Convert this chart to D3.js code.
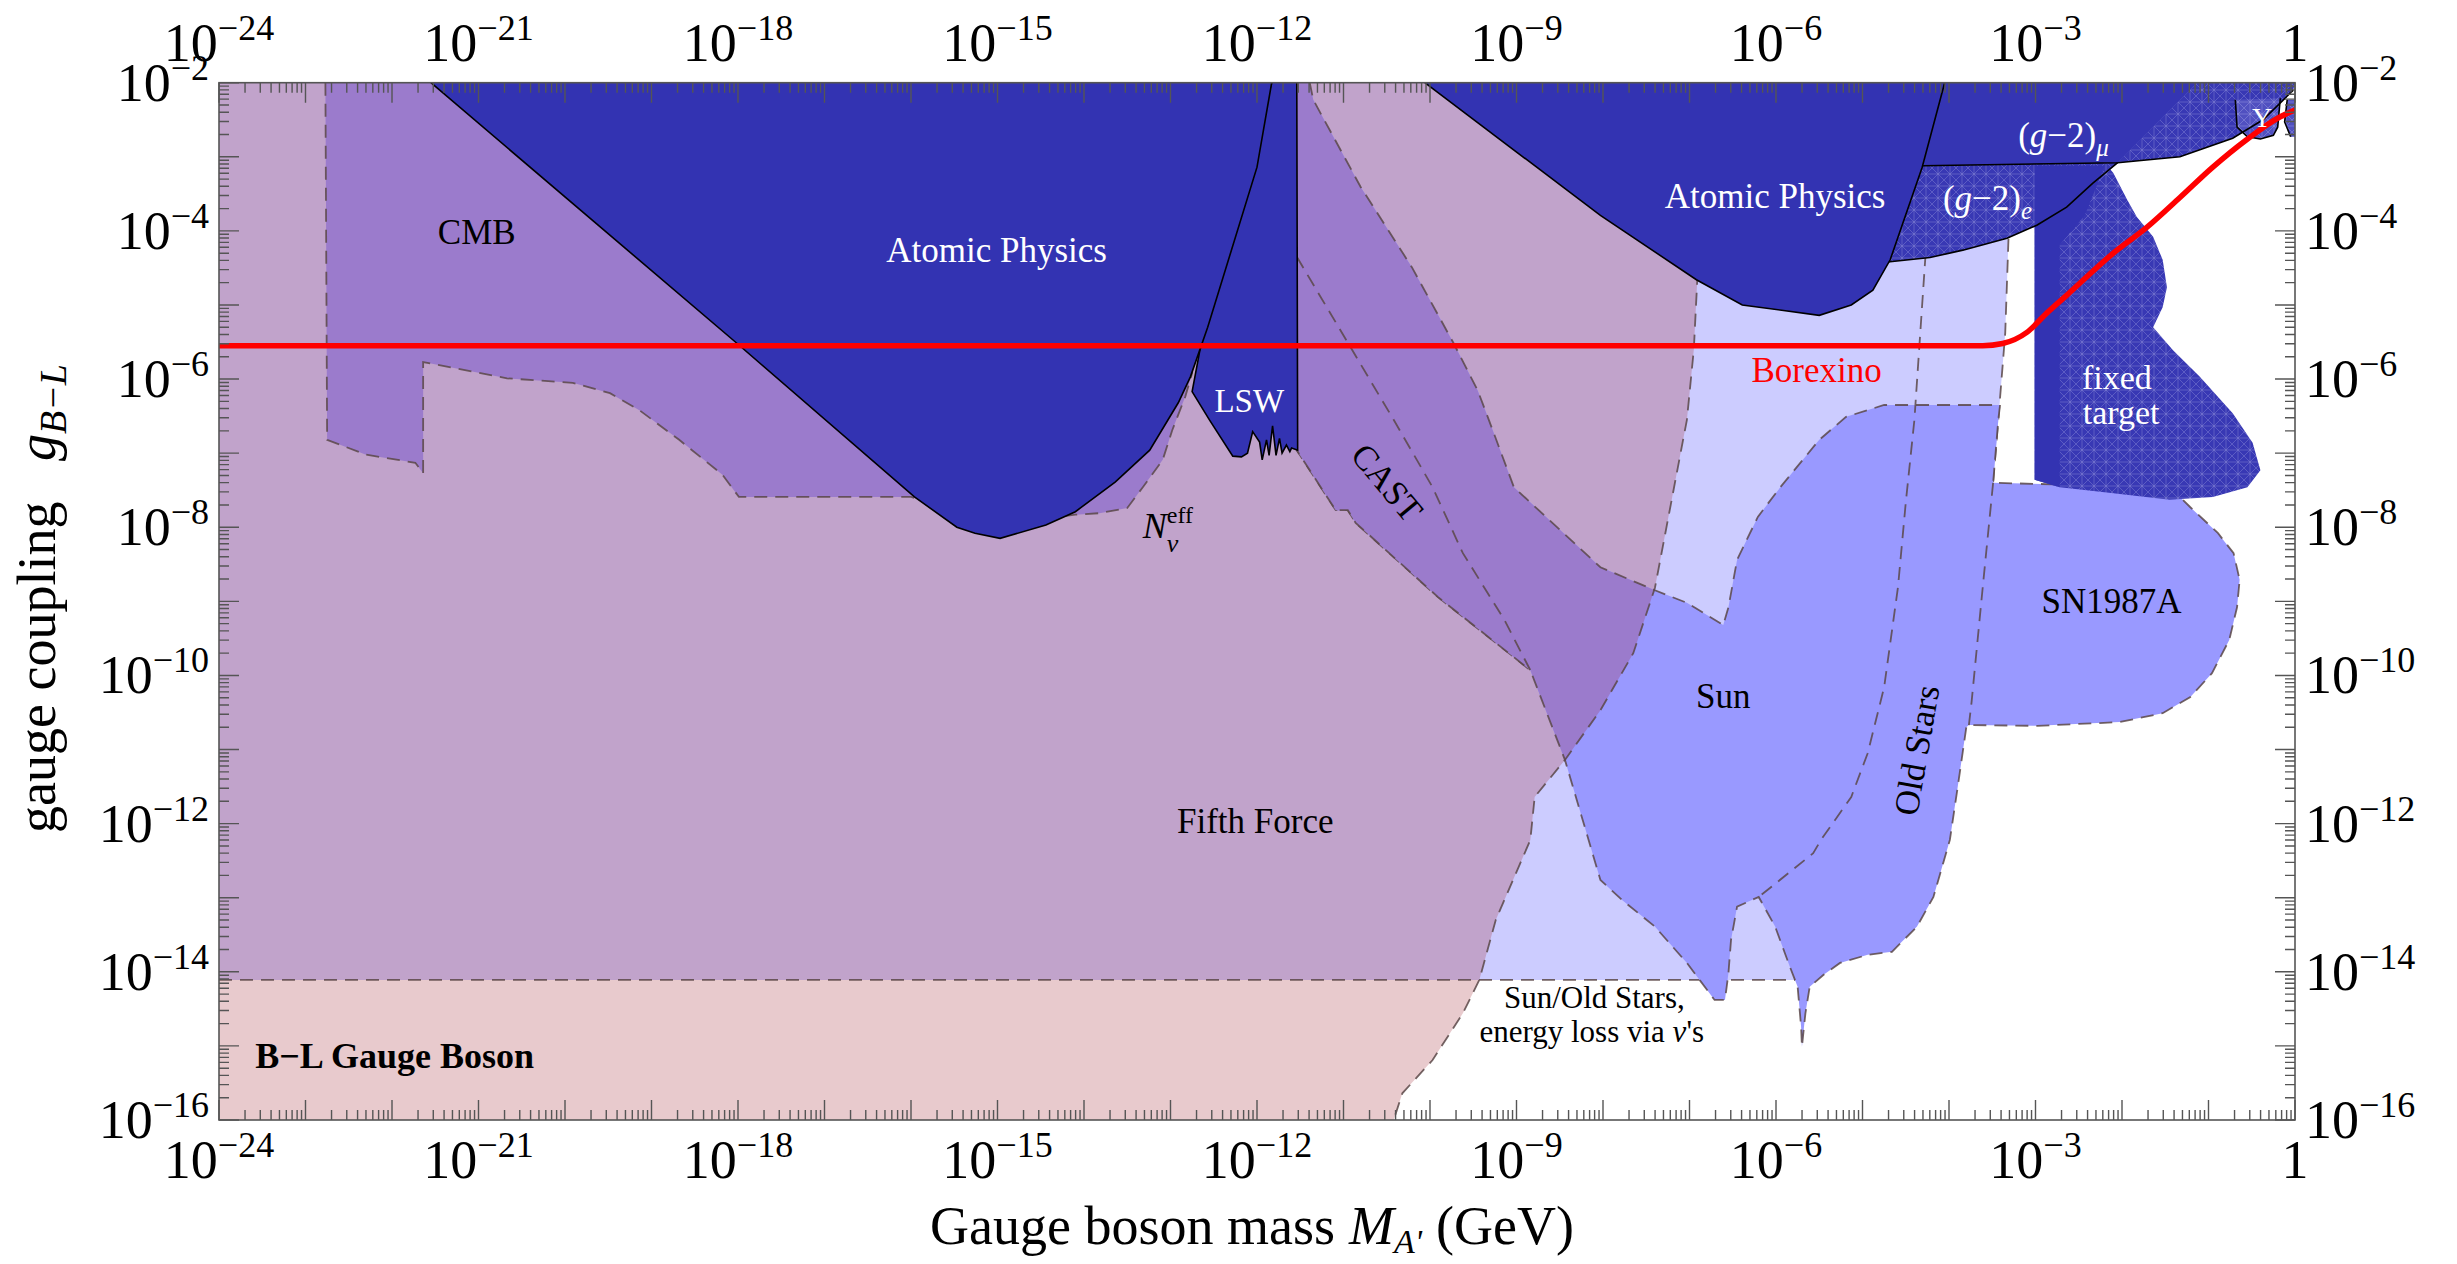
<!DOCTYPE html>
<html lang="en">
<head>
  <meta charset="UTF-8">
  <title>B-L Gauge Boson constraints</title>
  <script src="https://d3js.org/d3.v7.min.js"></script>
  <style>
    html, body { margin: 0; padding: 0; background: #fff; }
    svg { display: block; }
    text { font-family: "Liberation Serif", "Times New Roman", serif; }
  </style>
</head>
<body>
  <svg id="chart" width="2457" height="1264"></svg>

  <script>
    // every point is [log10(mass / GeV), log10(coupling)]
    const fifthForce = [[-24,-2],[-6.9,-2],[-6.91,-4.66],[-6.95,-5.6],[-7.03,-6.55],[-7.4,-8.82],[-7.65,-9.7],[-8.03,-10.47],[-8.44,-11.14],[-8.79,-11.64],[-8.84,-12.22],[-9.24,-13.3],[-9.43,-14.11],[-9.62,-14.56],[-9.97,-15.19],[-10.32,-15.64],[-10.42,-16],[-24,-16]];
    const energyLoss = [[-24,-14.11],[-5.78,-14.11],[-5.62,-13.9],[-4.57,-11.68],[-3.99,-10.33],[-3.64,-7.63],[-3.49,-7.4],[-3.43,-6.55],[-3.35,-5.38],[-3.31,-4.03],[-3.29,-2],[-24,-2]];
    const sunStars = [[-11.62,-2],[-11.39,-2],[-11.35,-2.23],[-10.8,-3.41],[-10.21,-4.49],[-9.73,-5.51],[-9.45,-6.15],[-9.32,-6.55],[-9.03,-7.46],[-8.03,-8.54],[-7.4,-8.85],[-7.03,-9.02],[-6.61,-9.32],[-6.55,-9.08],[-6.45,-8.44],[-6.21,-7.86],[-5.95,-7.46],[-5.5,-6.82],[-5.19,-6.51],[-4.75,-6.35],[-3.41,-6.35],[-3.43,-6.55],[-3.49,-7.4],[-1.46,-7.46],[-1.33,-7.59],[-1.21,-7.73],[-0.89,-8.08],[-0.71,-8.35],[-0.64,-8.71],[-0.67,-9.08],[-0.76,-9.52],[-0.96,-9.97],[-1.21,-10.29],[-1.53,-10.51],[-2.03,-10.63],[-2.98,-10.68],[-3.77,-10.67],[-3.8,-10.7],[-3.9,-11.51],[-3.99,-12.22],[-4.18,-12.99],[-4.37,-13.39],[-4.66,-13.73],[-4.94,-13.77],[-5.26,-13.88],[-5.45,-14.04],[-5.61,-14.2],[-5.66,-14.56],[-5.7,-15.01],[-5.71,-14.74],[-5.75,-14.2],[-5.84,-13.93],[-6.01,-13.39],[-6.2,-12.99],[-6.45,-13.12],[-6.52,-13.57],[-6.55,-14.02],[-6.59,-14.38],[-6.71,-14.38],[-7.03,-13.88],[-7.4,-13.39],[-7.78,-13.03],[-8.03,-12.76],[-8.44,-11.14],[-8.84,-9.93],[-9.91,-8.94],[-10.86,-7.94],[-10.95,-7.77],[-11.09,-7.77],[-11.54,-6.96]];
    const oldStarsEdge = [[-4.27,-4.3],[-4.4,-6.55],[-4.5,-7.67],[-4.59,-8.81],[-4.75,-10.16],[-4.94,-11.05],[-5.13,-11.64],[-5.48,-12.22],[-5.57,-12.4],[-6.2,-12.99]];
    const snEdge = [[-3.49,-7.4],[-3.61,-8.81],[-3.74,-10.37],[-3.77,-10.67]];
    const cast = [[-11.54,-4.35],[-10.42,-6.55],[-9.97,-7.46],[-9.62,-8.35],[-9.14,-9.25],[-8.84,-9.93],[-9.91,-8.94],[-10.86,-7.94],[-10.95,-7.77],[-11.09,-7.77],[-11.54,-6.96]];
    const cmbNeff = [[-22.77,-2],[-22.75,-6.82],[-22.3,-7.02],[-21.73,-7.13],[-21.64,-7.27],[-21.64,-5.77],[-20.67,-5.99],[-19.91,-6.05],[-19.48,-6.19],[-19.14,-6.42],[-18.68,-6.82],[-18.18,-7.29],[-17.99,-7.59],[-16.0,-7.59],[-14.97,-7.97],[-14.1,-7.83],[-13.82,-7.81],[-13.5,-7.74],[-13.32,-7.46],[-13.09,-7.09],[-12.98,-6.69],[-12.83,-6.24],[-12.75,-5.92],[-12.66,-2]];
    const atomic1 = [[-21.55,-2],[-18.02,-5.51],[-15.96,-7.59],[-15.47,-8.0],[-15.26,-8.08],[-14.97,-8.15],[-14.44,-7.97],[-14.1,-7.79],[-13.64,-7.39],[-13.24,-6.96],[-12.91,-6.32],[-12.77,-5.97],[-12.57,-5.3],[-12.0,-3.14],[-11.83,-2]];
    const lsw = [[-11.83,-2],[-11.54,-2],[-11.53,-6.96],[-11.6,-6.93],[-11.62,-6.98],[-11.66,-6.89],[-11.71,-7.0],[-11.74,-6.8],[-11.78,-7.03],[-11.82,-6.63],[-11.86,-7.03],[-11.89,-6.82],[-11.94,-7.09],[-11.97,-6.85],[-12.05,-6.71],[-12.11,-7.0],[-12.18,-7.05],[-12.28,-7.04],[-12.55,-6.55],[-12.75,-6.17],[-12.66,-5.61]];
    const atomic2 = [[-10.06,-2],[-8.03,-3.79],[-6.92,-4.66],[-6.39,-5.0],[-5.5,-5.14],[-5.13,-5.0],[-4.88,-4.8],[-4.68,-4.39],[-4.31,-3.14],[-4.05,-2]];
    const gm2Mu = [[-4.05,-2],[-4.3,-3.12],[-2.05,-3.08],[-1.13,-2]];
    const gm2MuEdge = [[-4.3,-3.12],[-2.05,-3.08],[-1.33,-3.0],[-0.72,-2.75],[-0.37,-2.5],[-0.02,-2.1]];
    const gm2E = [[-4.71,-4.42],[-4.22,-4.36],[-3.84,-4.26],[-3.33,-4.1],[-2.98,-3.92],[-2.64,-3.68],[-2.34,-3.36],[-2.05,-3.08],[-1.33,-3.0],[-0.72,-2.75],[-0.37,-2.5],[-0.02,-2.1],[0,-2],[-4.57,-2]];
    const gm2EEdge = [[-4.71,-4.42],[-4.22,-4.36],[-3.84,-4.26],[-3.33,-4.1],[-2.98,-3.92],[-2.64,-3.68],[-2.34,-3.36],[-2.05,-3.08]];
    const fixedTarget = [[-3.01,-3.12],[-2.17,-3.12],[-2.1,-3.22],[-1.94,-3.58],[-1.83,-3.81],[-1.64,-4.08],[-1.53,-4.39],[-1.48,-4.76],[-1.53,-5.03],[-1.64,-5.3],[-1.41,-5.61],[-1.1,-5.97],[-0.72,-6.46],[-0.49,-6.86],[-0.4,-7.23],[-0.55,-7.46],[-0.95,-7.59],[-1.45,-7.63],[-2.1,-7.54],[-2.72,-7.46],[-3.01,-7.36]];
    const fixedTargetBar = [[-3.01,-3.12],[-2.2,-3.12],[-2.43,-3.79],[-2.72,-4.19],[-2.72,-7.46],[-3.01,-7.36]];
    const upsilon = [[-0.69,-2.23],[-0.67,-2.6],[-0.55,-2.73],[-0.4,-2.76],[-0.25,-2.71],[-0.2,-2.6],[-0.17,-2.21]];
    const upsilon2 = [[-0.09,-2.23],[-0.12,-2.53],[-0.05,-2.73],[0,-2.73],[0,-2.23]];
    const borexino = [[-24,-5.55],[-4.2,-5.55],[-3.61,-5.55],[-3.38,-5.52],[-3.1,-5.37],[-2.87,-5.11],[-2.64,-4.87],[-2.1,-4.3],[-1.71,-3.95],[-1.33,-3.55],[-0.95,-3.14],[-0.56,-2.77],[-0.17,-2.46],[0,-2.37]];

    const xLabelExps = [-24, -21, -18, -15, -12, -9, -6, -3, 0];
    const yLabelExps = [-2, -4, -6, -8, -10, -12, -14, -16];

    const pink = "#e8cacd", mauve = "#c1a3cb", purple = "#9b7bcc",
          lavender = "#ccccff", periwinkle = "#9999ff", darkBlue = "#3333b2";

    const svg = d3.select("#chart");
    const pL = 219, pR = 2295, pT = 82.7, pB = 1120;

    const x = d3.scaleLog().domain([1e-24, 1]).range([pL, pR]);
    const y = d3.scaleLog().domain([1e-16, 1e-2]).range([pB, pT]);
    const X = d => x(Math.pow(10, d[0]));
    const Y = d => y(Math.pow(10, d[1]));
    const line = d3.line().x(X).y(Y);
    const poly = pts => line(pts) + "Z";

    // polygon outline without the pieces lying on the plot frame
    function edges(pts) {
      const onFrame = (a, b) =>
        (a[0] === b[0] && (a[0] === -24 || a[0] === 0)) ||
        (a[1] === b[1] && (a[1] === -2 || a[1] === -16));
      let d = "", last = null;
      for (let i = 0; i < pts.length; i++) {
        const a = pts[i], b = pts[(i + 1) % pts.length];
        if (onFrame(a, b)) { last = null; continue; }
        if (last !== a) d += `M${X(a)},${Y(a)}`;
        d += `L${X(b)},${Y(b)}`;
        last = b;
      }
      return d;
    }

    const defs = svg.append("defs");
    defs.append("clipPath").attr("id", "plotClip")
      .append("rect").attr("x", pL).attr("y", pT)
      .attr("width", pR - pL).attr("height", pB - pT);
    defs.append("clipPath").attr("id", "ffClip").append("path").attr("d", poly(fifthForce));
    defs.append("clipPath").attr("id", "elClip").append("path").attr("d", poly(energyLoss));

    function mesh(id, base, lineCol) {
      const p = defs.append("pattern").attr("id", id)
        .attr("patternUnits", "userSpaceOnUse").attr("width", 12).attr("height", 12);
      p.append("rect").attr("width", 12).attr("height", 12).attr("fill", base);
      p.append("path").attr("d", "M0,0L12,12M12,0L0,12M6,0V12M0,6H12")
        .attr("stroke", lineCol).attr("stroke-width", 0.8).attr("stroke-opacity", 0.55);
    }
    mesh("meshBlue", "#3838b4", "#8a8ad8");
    mesh("meshLight", "#5050c0", "#a0a0e6");

    const plot = svg.append("g").attr("clip-path", "url(#plotClip)");

    const dashed = sel => sel.attr("fill", "none").attr("stroke", "#5a4848")
      .attr("stroke-width", 1.8).attr("stroke-dasharray", "13,8").attr("stroke-opacity", 0.85);
    const solid = sel => sel.attr("fill", "none").attr("stroke", "#000").attr("stroke-width", 1.6);

    // light constraint regions
    plot.append("path").attr("d", poly(fifthForce)).attr("fill", pink);
    plot.append("path").attr("d", poly(energyLoss)).attr("fill", lavender);
    plot.append("path").attr("d", poly(fifthForce)).attr("fill", mauve).attr("clip-path", "url(#elClip)");
    plot.append("path").attr("d", edges(energyLoss)).call(dashed);

    plot.append("path").attr("d", poly(sunStars)).attr("fill", periwinkle);
    plot.append("path").attr("d", poly(sunStars)).attr("fill", purple).attr("clip-path", "url(#ffClip)");
    plot.append("path").attr("d", edges(fifthForce)).call(dashed);
    plot.append("path").attr("d", edges(sunStars)).call(dashed);
    plot.append("path").attr("d", line(oldStarsEdge)).call(dashed);
    plot.append("path").attr("d", line(snEdge)).call(dashed);

    plot.append("path").attr("d", poly(cast)).attr("fill", purple);
    plot.append("path").attr("d", edges(cast)).call(dashed);
    plot.append("path").attr("d", poly(cmbNeff)).attr("fill", purple);
    plot.append("path").attr("d", edges(cmbNeff)).call(dashed);

    // laboratory bounds
    plot.append("path").attr("d", poly(gm2E)).attr("fill", "url(#meshBlue)");
    plot.append("path").attr("d", poly(gm2Mu)).attr("fill", "#3535b3");
    plot.append("path").attr("d", poly(fixedTarget)).attr("fill", "url(#meshBlue)");
    plot.append("path").attr("d", poly(fixedTargetBar)).attr("fill", darkBlue);
    plot.append("path").attr("d", poly(upsilon)).attr("fill", "url(#meshLight)");
    plot.append("path").attr("d", poly(upsilon2)).attr("fill", "url(#meshLight)");
    plot.append("path").attr("d", line(upsilon)).call(solid);
    plot.append("path").attr("d", line(upsilon2.slice(0, 3))).call(solid);
    plot.append("path").attr("d", line(gm2EEdge)).call(solid);
    plot.append("path").attr("d", line(gm2MuEdge)).call(solid);

    [atomic2, lsw, atomic1].forEach(r => {
      plot.append("path").attr("d", poly(r)).attr("fill", darkBlue);
      plot.append("path").attr("d", edges(r)).call(solid);
    });

    plot.append("path").attr("d", d3.line().x(X).y(Y).curve(d3.curveMonotoneX)(borexino))
      .attr("fill", "none").attr("stroke", "#ff0000").attr("stroke-width", 5.5);

    // region labels
    function label(txt, pos, opt = {}) {
      const t = svg.append("text")
        .attr("x", X(pos)).attr("y", Y(pos))
        .attr("font-size", opt.size || 35)
        .attr("fill", opt.color || "#000")
        .attr("text-anchor", opt.anchor || "middle")
        .text(txt);
      if (opt.bold) t.attr("font-weight", "bold");
      if (opt.rotate) {
        t.attr("dominant-baseline", "central")
         .attr("transform", `rotate(${opt.rotate},${X(pos)},${Y(pos)})`);
      }
      return t;
    }
    label("CMB", [-21.02, -4.18]);
    label("Atomic Physics", [-15.01, -4.42], { color: "#fff" });
    label("Atomic Physics", [-6.01, -3.69], { color: "#fff" });
    label("LSW", [-12.09, -6.44], { color: "#fff", size: 33 });
    label("CAST", [-10.5, -7.4], { rotate: 50 });
    label("Fifth Force", [-12.02, -12.13]);
    label("Sun", [-6.61, -10.44]);
    label("Old Stars", [-4.37, -11.01], { rotate: -80 });
    label("SN1987A", [-2.12, -9.16]);
    label("Borexino", [-5.53, -6.04], { color: "#ff0000" });
    label("fixed", [-2.06, -6.13], { color: "#fff", size: 34 });
    label("target", [-2.01, -6.6], { color: "#fff", size: 34 });
    label("Υ", [-0.38, -2.6], { color: "#fff", size: 28 });
    label("Sun/Old Stars,", [-8.1, -14.49], { size: 31 });
    const el = label("energy loss via ", [-8.13, -14.95], { size: 31 });
    el.append("tspan").attr("font-style", "italic").text("ν");
    el.append("tspan").text("'s");
    label("B−L Gauge Boson", [-23.58, -15.3], { bold: true, anchor: "start", size: 36 });

    const nu = label("N", [-13.32, -8.14], { anchor: "start", size: 36 }).attr("font-style", "italic");
    nu.append("tspan").attr("font-style", "normal").attr("font-size", 24).attr("dy", -15).text("eff");
    nu.append("tspan").attr("x", X([-13.32, 0]) + 24).attr("dy", 29).attr("font-size", 26).text("ν");

    function gm2(pos, sub) {
      const t = label("(", pos, { color: "#fff", anchor: "start" });
      t.append("tspan").attr("font-style", "italic").text("g");
      t.append("tspan").text("−2)");
      t.append("tspan").attr("font-style", "italic").attr("font-size", 25).attr("dy", 9).text(sub);
    }
    gm2([-3.2, -2.87], "μ");
    gm2([-4.07, -3.72], "e");

    // frame and ticks
    const tickCol = "#555";
    const axis = svg.append("g");
    const xTicks = [], yTicks = [];
    for (let e = -24; e < 0; e++) for (let k = 1; k < 10; k++) xTicks.push({ v: k * Math.pow(10, e), major: k === 1 });
    xTicks.push({ v: 1, major: true });
    for (let e = -16; e < -2; e++) for (let k = 1; k < 10; k++) yTicks.push({ v: k * Math.pow(10, e), major: k === 1 });
    yTicks.push({ v: 1e-2, major: true });

    axis.selectAll(".xt").data(xTicks).enter().append("path")
      .attr("d", d => {
        const len = d.major ? 20 : 10, xx = x(d.v);
        return `M${xx},${pB}V${pB - len}M${xx},${pT}V${pT + len}`;
      })
      .attr("stroke", tickCol).attr("stroke-width", 1.4);
    axis.selectAll(".yt").data(yTicks).enter().append("path")
      .attr("d", d => {
        const len = d.major ? 20 : 10, yy = y(d.v);
        return `M${pL},${yy}H${pL + len}M${pR},${yy}H${pR - len}`;
      })
      .attr("stroke", tickCol).attr("stroke-width", 1.4);
    axis.append("rect").attr("x", pL).attr("y", pT)
      .attr("width", pR - pL).attr("height", pB - pT)
      .attr("fill", "none").attr("stroke", tickCol).attr("stroke-width", 1.6);

    function powLabel(e, px, py, anchor) {
      const t = svg.append("text").attr("x", px).attr("y", py)
        .attr("font-size", 54).attr("text-anchor", anchor);
      if (e === 0) { t.text("1"); return; }
      t.text("10");
      t.append("tspan").attr("font-size", 36).attr("dy", -21).text("−" + Math.abs(e));
    }
    xLabelExps.forEach(e => {
      powLabel(e, x(Math.pow(10, e)), 1178, "middle");
      powLabel(e, x(Math.pow(10, e)), 61, "middle");
    });
    yLabelExps.forEach(e => {
      powLabel(e, 209, y(Math.pow(10, e)) + 18, "end");
      powLabel(e, 2305, y(Math.pow(10, e)) + 18, "start");
    });

    // axis titles
    const xt = svg.append("text").attr("x", 930).attr("y", 1244).attr("font-size", 54)
      .text("Gauge boson mass ");
    xt.append("tspan").attr("x", 1349).attr("font-style", "italic").text("M");
    xt.append("tspan").attr("font-style", "italic").attr("font-size", 34).attr("dy", 9).text("A'");
    xt.append("tspan").attr("x", 1436).attr("dy", -9).text("(GeV)");

    const yt = svg.append("text").attr("transform", "translate(55,833) rotate(-90)")
      .attr("font-size", 54).text("gauge coupling");
    yt.append("tspan").attr("x", 372).attr("font-style", "italic").text("g");
    yt.append("tspan").attr("font-style", "italic").attr("font-size", 38).attr("dy", 11).text("B−L");
  </script>
</body>
</html>
